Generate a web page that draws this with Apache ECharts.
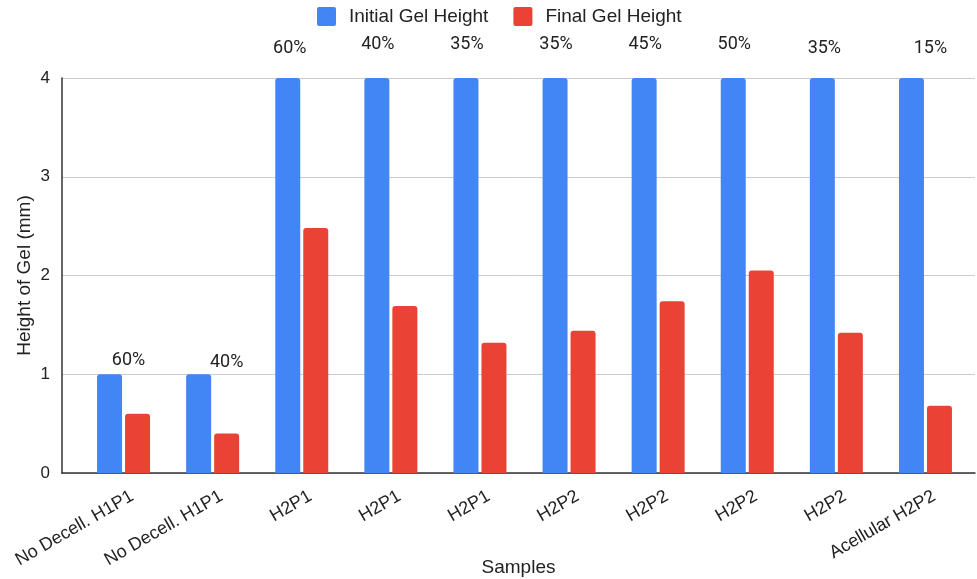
<!DOCTYPE html>
<html>
<head>
<meta charset="utf-8">
<script src="https://cdn.jsdelivr.net/npm/echarts@6/dist/echarts.min.js"></script>
<style>html,body{margin:0;padding:0;background:#fff}#c{width:977px;height:579px}</style>
</head>
<body>
<div id="c"></div>
<script>
var categories = ['No Decell. H1P1','No Decell. H1P1','H2P1','H2P1','H2P1','H2P2','H2P2','H2P2','H2P2','Acellular H2P2'];
var initialHeight = [1,1,4,4,4,4,4,4,4,4];
var finalHeight = [0.6,0.4,2.48,1.69,1.32,1.44,1.74,2.05,1.42,0.68];
var percentLabels = ['60%','40%','60%','40%','35%','35%','45%','50%','35%','15%'];
var seriesNames = ['Initial Gel Height','Final Gel Height'];
var yTicks = [0,1,2,3,4];

var labelOffsets = [[19,0],[28,2],[2,-16],[1,-20],[1,-20],[1,-20],[1,-20],[1,-20],[2,-16],[19,-16]];
var FONT = 'Liberation Sans, Arial, sans-serif';
var ICON = 'path://M2,0 H17 Q19,0 19,2 V17 Q19,19 17,19 H2 Q0,19 0,17 V2 Q0,0 2,0 Z';
var chart = echarts.init(document.getElementById('c'));
chart.setOption({
  animation:false,
  backgroundColor:'#fff',
  legend:{
    top:2, left:312, itemWidth:19, itemHeight:19, itemGap:25,
    icon:ICON,
    textStyle:{fontFamily:FONT, fontSize:19, color:'#222', padding:[0,0,0,8]},
    data:seriesNames
  },
  grid:[
    {left:62, right:2, top:78, bottom:106, outerBoundsMode:'none', containLabel:false},
    {left:79, right:7, top:78, bottom:106, outerBoundsMode:'none', containLabel:false}
  ],
  xAxis:[
    {gridIndex:0, type:'value', min:0, max:1, axisLabel:{show:false}, axisTick:{show:false}, splitLine:{show:false},
     axisLine:{show:true, lineStyle:{color:'#333', width:1.5}},
     name:'Samples', nameLocation:'middle', nameGap:85, nameTextStyle:{fontFamily:FONT, fontSize:19, color:'#222'}},
    {gridIndex:1, type:'category', data:categories, axisLine:{show:false}, axisTick:{show:false},
     axisLabel:{rotate:30, interval:0, margin:27, padding:[0,-10,0,0], fontFamily:FONT, fontSize:18, color:'#222'}}
  ],
  yAxis:[
    {gridIndex:0, type:'value', min:yTicks[0], max:yTicks[yTicks.length-1], interval:1,
     axisLine:{show:true, lineStyle:{color:'#333', width:1.5}}, axisTick:{show:false},
     axisLabel:{margin:12, fontFamily:FONT, fontSize:17, color:'#222'},
     splitLine:{lineStyle:{color:'#cccccc', width:1}},
     name:'Height of Gel (mm)', nameLocation:'middle', nameGap:28, nameRotate:90, nameMoveOverlap:false,
     nameTextStyle:{fontFamily:FONT, fontSize:19, color:'#222'}},
    {gridIndex:1, type:'value', min:yTicks[0], max:yTicks[yTicks.length-1], interval:1, show:false}
  ],
  series:[
    {name:seriesNames[0], type:'bar', xAxisIndex:1, yAxisIndex:1, barWidth:25, barGap:'12%',
     itemStyle:{color:'#4285F4', borderRadius:[3,3,0,0]},
     data:initialHeight.map(function(v,i){
       return {value:v, label:{show:true, position:'top', distance:5, offset:labelOffsets[i],
         formatter:percentLabels[i], fontFamily:'Roboto, sans-serif', fontSize:18, color:'#222'}};
     })},
    {name:seriesNames[1], type:'bar', xAxisIndex:1, yAxisIndex:1, barWidth:25, barGap:'12%',
     itemStyle:{color:'#EA4335', borderRadius:[3,3,0,0]},
     data:finalHeight}
  ]
});
</script>
</body>
</html>
